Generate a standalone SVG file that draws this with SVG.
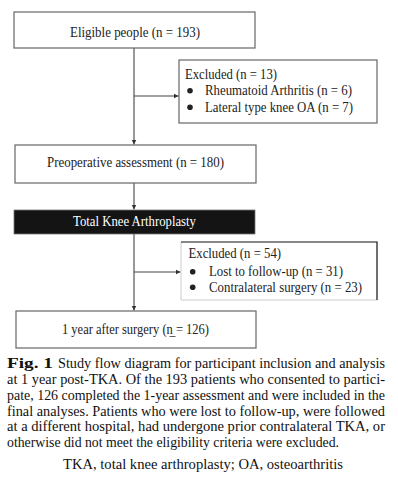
<svg xmlns="http://www.w3.org/2000/svg" width="398" height="479" viewBox="0 0 398 479">
<style>
.t{font-family:"Liberation Serif","Times New Roman",serif;font-size:14px;fill:#222}
.c{font-family:"Liberation Serif","Times New Roman",serif;font-size:14.5px;fill:#111}
.box{fill:#fff;stroke:#666;stroke-width:1.2}
.ln{stroke:#444;stroke-width:1.1;fill:none}
</style>
<defs>
<marker id="ah" markerWidth="6" markerHeight="6" refX="5" refY="3" orient="auto" markerUnits="userSpaceOnUse">
<path d="M0,0.5 L5,3 L0,5.5 Z" fill="#333"/>
</marker>
</defs>
<rect width="398" height="479" fill="#fff"/>
<g id="connectors">
<line class="ln" x1="134" y1="48" x2="134" y2="144.5" marker-end="url(#ah)"/>
<line class="ln" x1="134" y1="96" x2="178.5" y2="96" marker-end="url(#ah)"/>
<line class="ln" x1="134" y1="183" x2="134" y2="209.5" marker-end="url(#ah)"/>
<line class="ln" x1="134" y1="234" x2="134" y2="310.5" marker-end="url(#ah)"/>
<line class="ln" x1="134" y1="272" x2="180.5" y2="272" marker-end="url(#ah)"/>
</g>
<g id="eligible">
<rect class="box" x="14" y="12" width="241" height="36"/>
<text class="t" x="70" y="36.5" textLength="130" lengthAdjust="spacingAndGlyphs">Eligible people (n = 193)</text>
</g>
<g id="excluded1">
<rect class="box" x="179" y="60" width="198" height="63" stroke="#555"/>
<text class="t" x="185" y="79" textLength="92" lengthAdjust="spacingAndGlyphs">Excluded (n = 13)</text>
<circle cx="190" cy="90.7" r="2.8" fill="#222"/>
<text class="t" x="205" y="95" textLength="147" lengthAdjust="spacingAndGlyphs">Rheumatoid Arthritis (n = 6)</text>
<circle cx="190" cy="107.3" r="2.8" fill="#222"/>
<text class="t" x="205" y="111.7" textLength="148" lengthAdjust="spacingAndGlyphs">Lateral type knee OA (n = 7)</text>
</g>
<g id="preop">
<rect class="box" x="15" y="145" width="241" height="38"/>
<text class="t" x="47" y="167" textLength="177" lengthAdjust="spacingAndGlyphs">Preoperative assessment (n = 180)</text>
</g>
<g id="tka">
<rect x="14" y="210" width="241" height="24" fill="#141414" stroke="#777" stroke-width="0.8"/>
<text class="t" x="73" y="225.7" textLength="123" lengthAdjust="spacingAndGlyphs" style="fill:#fff">Total Knee Arthroplasty</text>
</g>
<g id="excluded2">
<rect x="181" y="242" width="196" height="58" fill="#fff" stroke="none"/>
<path d="M181,242 V300 H377" fill="none" stroke="#ccc" stroke-width="1"/>
<path d="M181,242 H377 V300" fill="none" stroke="#111" stroke-width="1.2"/>
<text class="t" x="188.5" y="258.3" textLength="92.5" lengthAdjust="spacingAndGlyphs">Excluded (n = 54)</text>
<circle cx="192.7" cy="271.7" r="2.8" fill="#222"/>
<text class="t" x="209" y="275.7" textLength="134" lengthAdjust="spacingAndGlyphs">Lost to follow-up (n = 31)</text>
<circle cx="192.7" cy="287.3" r="2.8" fill="#222"/>
<text class="t" x="209" y="292.3" textLength="153" lengthAdjust="spacingAndGlyphs">Contralateral surgery (n = 23)</text>
</g>
<g id="oneyear">
<rect class="box" x="16" y="311" width="240" height="37"/>
<text class="t" x="62" y="334" textLength="147" lengthAdjust="spacingAndGlyphs">1 year after surgery (n = 126)</text>
<line x1="169.5" y1="336.5" x2="175.5" y2="336.5" stroke="#333" stroke-width="0.8"/>
</g>
<g id="caption">
<text class="c" x="7" y="368.3" font-weight="bold" textLength="46" lengthAdjust="spacingAndGlyphs">Fig. 1</text>
<text class="c" x="58" y="368.3" textLength="327" lengthAdjust="spacingAndGlyphs">Study flow diagram for participant inclusion and analysis</text>
<text class="c" x="7" y="384" textLength="378" lengthAdjust="spacingAndGlyphs">at 1 year post-TKA. Of the 193 patients who consented to partici-</text>
<text class="c" x="7" y="400" textLength="378" lengthAdjust="spacingAndGlyphs" style="font-size:14px">pate, 126 completed the 1-year assessment and were included in the</text>
<text class="c" x="7" y="415.7" textLength="378" lengthAdjust="spacingAndGlyphs">final analyses. Patients who were lost to follow-up, were followed</text>
<text class="c" x="7" y="431.3" textLength="378" lengthAdjust="spacingAndGlyphs">at a different hospital, had undergone prior contralateral TKA, or</text>
<text class="c" x="7" y="446.7" textLength="332" lengthAdjust="spacingAndGlyphs">otherwise did not meet the eligibility criteria were excluded.</text>
<text class="c" x="63" y="469" textLength="280" lengthAdjust="spacingAndGlyphs">TKA, total knee arthroplasty; OA, osteoarthritis</text>
</g>
</svg>
